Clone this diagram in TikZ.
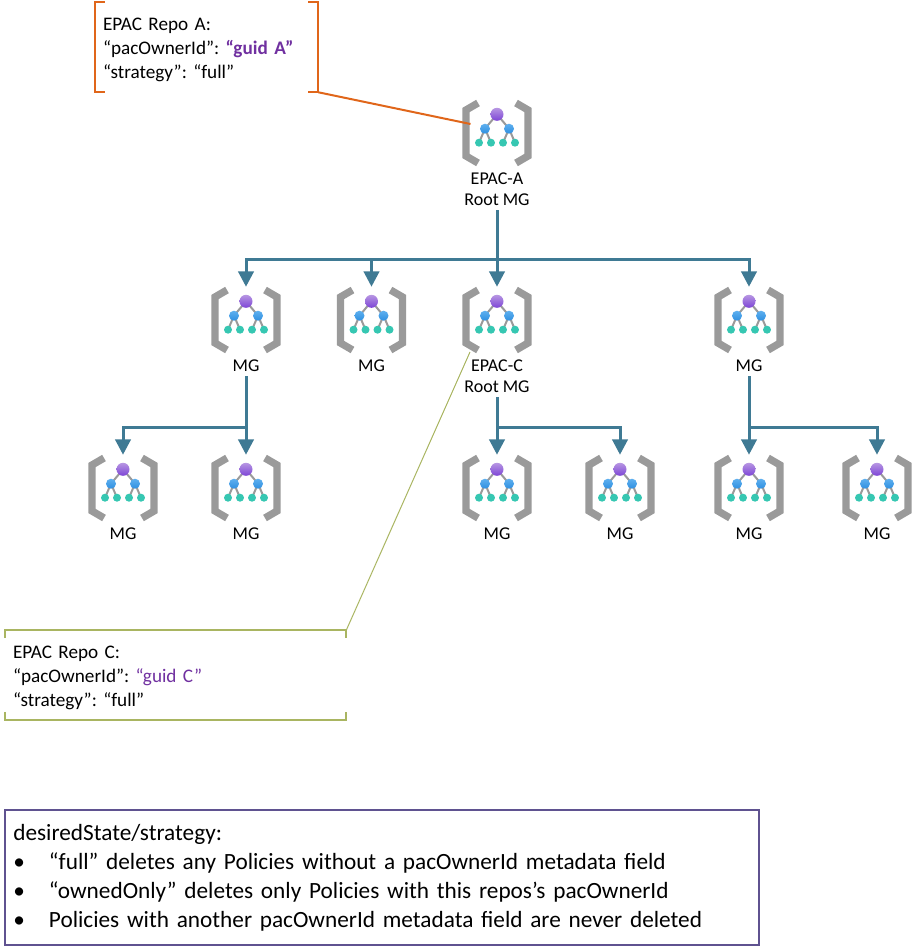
\documentclass[tikz,border=0pt]{standalone}
\usepackage{fontspec}
\setmainfont{Carlito}
\usepackage{tikz}
\usetikzlibrary{arrows.meta, positioning}
\usepackage{xcolor}

\definecolor{bracketgray}{HTML}{9A9A9A}
\definecolor{linkblue}{HTML}{3F7A94}
\definecolor{calloutorange}{HTML}{E0661A}
\definecolor{calloutolive}{HTML}{A9B561}
\definecolor{guidpurple}{HTML}{7030A0}
\definecolor{notepurple}{HTML}{5F5290}
\definecolor{balltop}{HTML}{B796E2}
\definecolor{ballbottom}{HTML}{7D45D6}
\definecolor{midtop}{HTML}{5EB0EF}
\definecolor{midbottom}{HTML}{2F8FE0}
\definecolor{leafgreen}{HTML}{36C7B2}

\tikzset{
    mgicon/.style={minimum width=51pt, minimum height=49.5pt, inner sep=0pt},
    mglabel/.style={anchor=north, inner xsep=0pt, inner ysep=3pt, align=center, font=\fontsize{13.5}{15.75}\selectfont},
    iconline/.style={draw=bracketgray, line width=1.5pt},
    iconbracket/.style={draw=bracketgray, line width=5.5pt, miter limit=4},
    mglink/.style={draw=linkblue, line width=2.25pt},
    mgarrow/.style={mglink, -{Triangle[length=11.5pt, width=11.5pt]}},
    repotext/.style={align=left, inner ysep=0pt, inner xsep=6pt, font=\fontsize{14.4}{18}\selectfont},
    pics/mgnode/.style={code={
        \node[mgicon] (-icon) at (0,0) {};
        \draw[iconbracket] (-19,-30) -- (-31,-23) -- (-31,23) -- (-19,30);
        \draw[iconbracket] (19,-30) -- (31,-23) -- (31,23) -- (19,30);
        \draw[iconline] (12,-4.3) -- (0,-18.7) -- (-12,-4.3);
        \draw[iconline] (-18,9.7) -- (-12,-4.3) -- (-6,9.7);
        \draw[iconline] (18,9.7) -- (12,-4.3) -- (6,9.7);
        \shade[top color=balltop, bottom color=ballbottom] (0,-18.7) circle (6.5);
        \foreach \midx in {-12,12}
            \shade[top color=midtop, bottom color=midbottom] (\midx,-4.3) circle (5);
        \foreach \leafx in {-18,-6,6,18}
            \fill[leafgreen] (\leafx,9.7) circle (4);
        \node[mglabel] (-label) at (0,36) {#1};
    }},
}

\begin{document}
\frenchspacing
\begin{tikzpicture}[x=0.75pt, y=-0.75pt, >=Stealth]
    \useasboundingbox (0,0) rectangle (913,947);

    % management groups
    \pic (rootA) at (497,133) {mgnode={EPAC-A\\Root MG}};
    \pic (mgB) at (246,320) {mgnode={MG}};
    \pic (mgD) at (371.5,320) {mgnode={MG}};
    \pic (rootC) at (497,320) {mgnode={EPAC-C\\Root MG}};
    \pic (mgE) at (749,320) {mgnode={MG}};
    \pic (mgF) at (123,488) {mgnode={MG}};
    \pic (mgG) at (246,488) {mgnode={MG}};
    \pic (mgH) at (497,488) {mgnode={MG}};
    \pic (mgI) at (620,488) {mgnode={MG}};
    \pic (mgJ) at (749,488) {mgnode={MG}};
    \pic (mgK) at (877,488) {mgnode={MG}};

    % links
    \coordinate (busA) at (497,259);
    \coordinate (busB) at (246,427);
    \coordinate (busC) at (497,427);
    \coordinate (busE) at (749,427);

    \draw[mglink] (rootA-label.south) -- (busA);
    \draw[mgarrow] (busA) -| (mgB-icon.north);
    \draw[mgarrow] (busA) -| (mgD-icon.north);
    \draw[mgarrow] (busA) -- (rootC-icon.north);
    \draw[mgarrow] (busA) -| (mgE-icon.north);

    \draw[mglink] (mgB-label.south) -- (busB);
    \draw[mgarrow] (busB) -| (mgF-icon.north);
    \draw[mgarrow] (busB) -- (mgG-icon.north);

    \draw[mglink] (rootC-label.south) -- (busC);
    \draw[mgarrow] (busC) -- (mgH-icon.north);
    \draw[mgarrow] (busC) -| (mgI-icon.north);

    \draw[mglink] (mgE-label.south) -- (busE);
    \draw[mgarrow] (busE) -- (mgJ-icon.north);
    \draw[mgarrow] (busE) -| (mgK-icon.north);

    % repo A
    \node[repotext, text width=155.25pt, minimum height=67.5pt] (repoA) at (206.5,47) {\rule{0pt}{13.5pt}EPAC Repo A:\\
        “pacOwnerId”: {\bfseries\color{guidpurple}“guid A”}\\
        “strategy”: “full”};
    \draw[calloutorange, line width=1.5pt] ([xshift=7.5pt]repoA.north west) -- (repoA.north west) -- (repoA.south west) -- ([xshift=7.5pt]repoA.south west);
    \draw[calloutorange, line width=1.5pt] ([xshift=-7.5pt]repoA.north east) -- (repoA.north east) -- (repoA.south east) -- ([xshift=-7.5pt]repoA.south east);
    \coordinate (leadA) at (470.5,124);
    \draw[calloutorange, line width=1.5pt] (repoA.south east) -- (leadA);

    % repo C
    \node[repotext, text width=243.75pt, minimum height=66.75pt] (repoC) at (175.5,675) {\rule{0pt}{13.5pt}EPAC Repo C:\\
        “pacOwnerId”: {\color{guidpurple}“guid C”}\\
        “strategy”: “full”};
    \draw[calloutolive, line width=1.2pt] ([yshift=-6pt]repoC.north west) -- (repoC.north west) -- (repoC.north east) -- ([yshift=-6pt]repoC.north east);
    \draw[calloutolive, line width=1.2pt] ([yshift=6pt]repoC.south west) -- (repoC.south west) -- (repoC.south east) -- ([yshift=6pt]repoC.south east);
    \coordinate (leadC) at (470,352);
    \draw[calloutolive, line width=0.75pt] (repoC.north east) -- (leadC);

    % strategy note
    \node[draw=notepurple, line width=1.5pt, align=left, text width=553pt, inner xsep=6.25pt, inner ysep=0pt, minimum height=101.25pt,
        font=\fontsize{17.45}{21.75}\selectfont] (note) at (382,877.5) {desiredState/strategy:\\
        \makebox[26.75pt][l]{\textbullet}“full” deletes any Policies without a pacOwnerId metadata field\\
        \makebox[26.75pt][l]{\textbullet}“ownedOnly” deletes only Policies with this repos’s pacOwnerId\\
        \makebox[26.75pt][l]{\textbullet}Policies with another pacOwnerId metadata field are never deleted};
\end{tikzpicture}
\end{document}
